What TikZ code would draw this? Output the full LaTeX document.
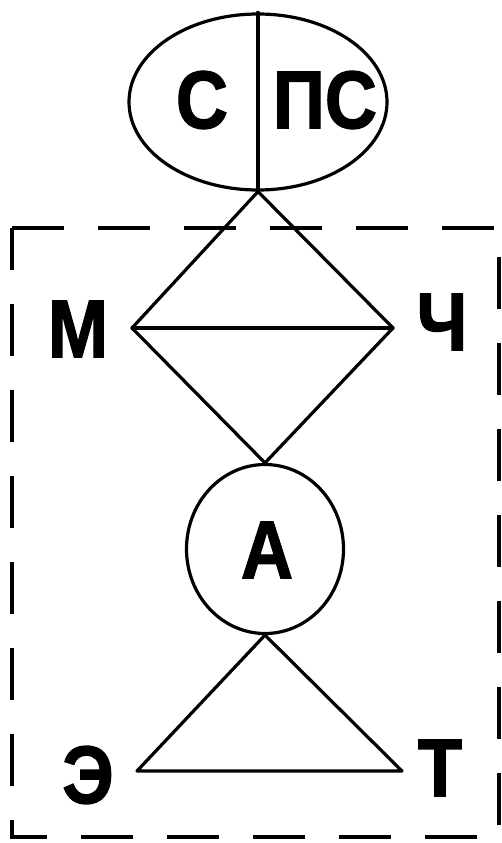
\documentclass[tikz,border=0pt]{standalone}
\usepackage{fontspec}
\newfontfamily\lbl{Liberation Sans}[FakeStretch=0.88,FakeBold=1.5]
\usetikzlibrary{shapes.geometric}
\begin{document}
\begin{tikzpicture}[x=1pt,y=-1pt,
  shape line/.style={line width=3.2pt, line join=round, line cap=round},
  letter/.style={inner sep=0pt, font=\lbl\bfseries\fontsize{82}{82}\selectfont},
  frame line/.style={line width=4.5pt, dash pattern=on 52pt off 34pt}]
\useasboundingbox (0,0) rectangle (502,843);
% dashed frame
\draw[frame line] (12,228) -- (499,228) -- (499,837) -- (12,837) -- cycle;
% top ellipse
\node[ellipse, draw, shape line, minimum width=258pt, minimum height=176pt, inner sep=0pt] (e) at (258,102) {};
\draw[shape line] (e.north) -- (e.south);
\node[letter] (c1) at (202,100) {С};
\node[letter] (ps) at (325,100) {ПС};
% diamond
\coordinate (L) at (132,328);
\coordinate (R) at (393,328);
% circle A
\node[ellipse, draw, shape line, minimum width=157pt, minimum height=169pt, inner sep=0pt] (a) at (265,549) {};
\node[letter] (alab) at (267,550) {А};
\draw[shape line] (e.south) -- (L) -- (a.north) -- (R) -- cycle;
\draw[shape line] (L) -- (R);
% triangle
\coordinate (TL) at (137,771);
\coordinate (TR) at (402,771);
\draw[shape line] (a.south) -- (TL) -- (TR) -- cycle;
% labels
\node[letter] (m) at (78,329) {М};
\node[letter] (ch) at (442,322) {Ч};
\node[letter] (ee) at (88,775) {Э};
\node[letter] (t) at (440,768) {Т};
\end{tikzpicture}
\end{document}
